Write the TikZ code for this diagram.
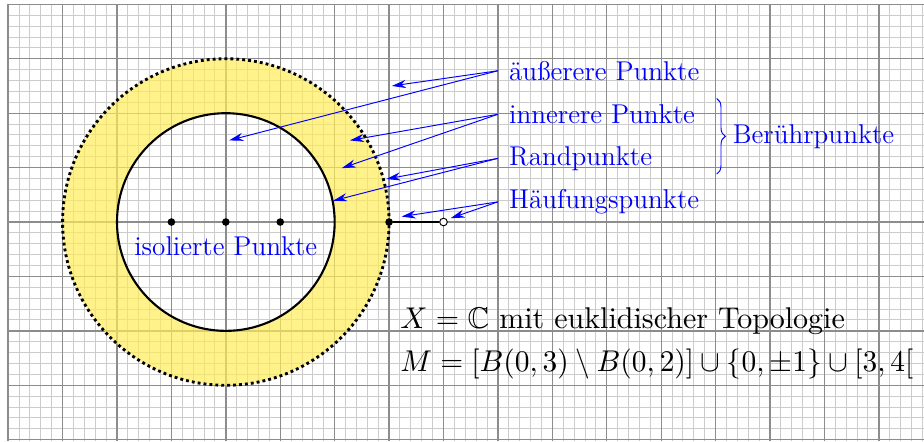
\documentclass[tikz,border=0pt]{standalone}
\usepackage{amssymb}
\usetikzlibrary{arrows.meta,decorations.pathreplacing}
\definecolor{ringyellow}{RGB}{255,236,90}
\begin{document}
\begin{tikzpicture}[
  lbl/.style={text=blue, anchor=west, font=\fontsize{14.2}{16}\selectfont, inner xsep=0.2cm, inner ysep=0pt},
  arr/.style={blue, line width=0.5pt, -{Stealth[length=2.6mm,width=1.5mm]}},
  fdot/.style={circle, fill=black, inner sep=0pt, minimum size=1.4mm},
  odot/.style={circle, draw=black, fill=white, line width=0.5pt, inner sep=0pt, minimum size=1.4mm},
  formula/.style={anchor=base west, inner sep=0pt}
]
\useasboundingbox (-4.15,-4.03) rectangle (12.83,4.08);
% grid
\draw[step=0.2, black!20, line width=0.5pt] (-4,-4.03) grid (12.83,4);
\draw[step=1, black!45, line width=0.7pt] (-4,-4.03) grid (12.83,4);
% annulus
\fill[ringyellow, fill opacity=0.7, even odd rule] (0,0) circle (3) (0,0) circle (2);
\draw[line width=1.5pt, dash pattern=on 1.5pt off 1.6pt] (0,0) circle (3);
\draw[line width=1.1pt] (0,0) circle (2);
% points
\node[fdot] (pm) at (-1,0) {};
\node[fdot] (p0) at (0,0) {};
\node[fdot] (pp) at (1,0) {};
\node[fdot] (a3) at (3,0) {};
\node[odot] (a4) at (4,0) {};
\draw[line width=1.1pt] (a3) -- (a4);
% labels
\node[lbl] (aus) at (5,2.78) {äußerere Punkte};
\node[lbl] (inn) at (5,1.98) {innerere Punkte};
\node[lbl] (rand) at (5,1.17) {Randpunkte};
\node[lbl] (hauf) at (5,0.37) {Häufungspunkte};
\node[text=blue, font=\fontsize{14.2}{16}\selectfont, inner sep=0pt] (iso) at (0,-0.45) {isolierte Punkte};
% arrow targets
\coordinate (e1) at (3.05,2.5);
\coordinate (e2) at (0.06,1.5);
\coordinate (i1) at (2.28,1.5);
\coordinate (i2) at (2.13,0.99);
\coordinate (r1) at (2.95,0.79);
\coordinate (r2) at (1.97,0.39);
\coordinate (h1) at (3.23,0.1);
\coordinate (h2) at (4.13,0.07);
\draw[arr] (aus.west) -- (e1);
\draw[arr] (aus.west) -- (e2);
\draw[arr] (inn.west) -- (i1);
\draw[arr] (inn.west) -- (i2);
\draw[arr] (rand.west) -- (r1);
\draw[arr] (rand.west) -- (r2);
\draw[arr] (hauf.west) -- (h1);
\draw[arr] (hauf.west) -- (h2);
% brace
\coordinate (bt) at (9.02,2.27);
\coordinate (bb) at (9.02,0.88);
\draw[blue, line width=0.5pt, decorate, decoration={brace, amplitude=4.5pt}] (bt) -- (bb);
\node[text=blue, anchor=west, font=\fontsize{14.2}{16}\selectfont, inner sep=0pt] (ber) at (9.31,1.57) {Berührpunkte};
% formulas
\node[formula] (f1) at (3.2,-1.95) {\scalebox{1.57}{$X=\mathbb{C}$ mit euklidischer Topologie}};
\node[formula] (f2) at (3.2,-2.75) {\scalebox{1.54}[1.57]{$M=[B(0,3)\setminus B(0,2)]\cup\{0,\pm1\}\cup[3,4[$}};
\end{tikzpicture}
\end{document}
